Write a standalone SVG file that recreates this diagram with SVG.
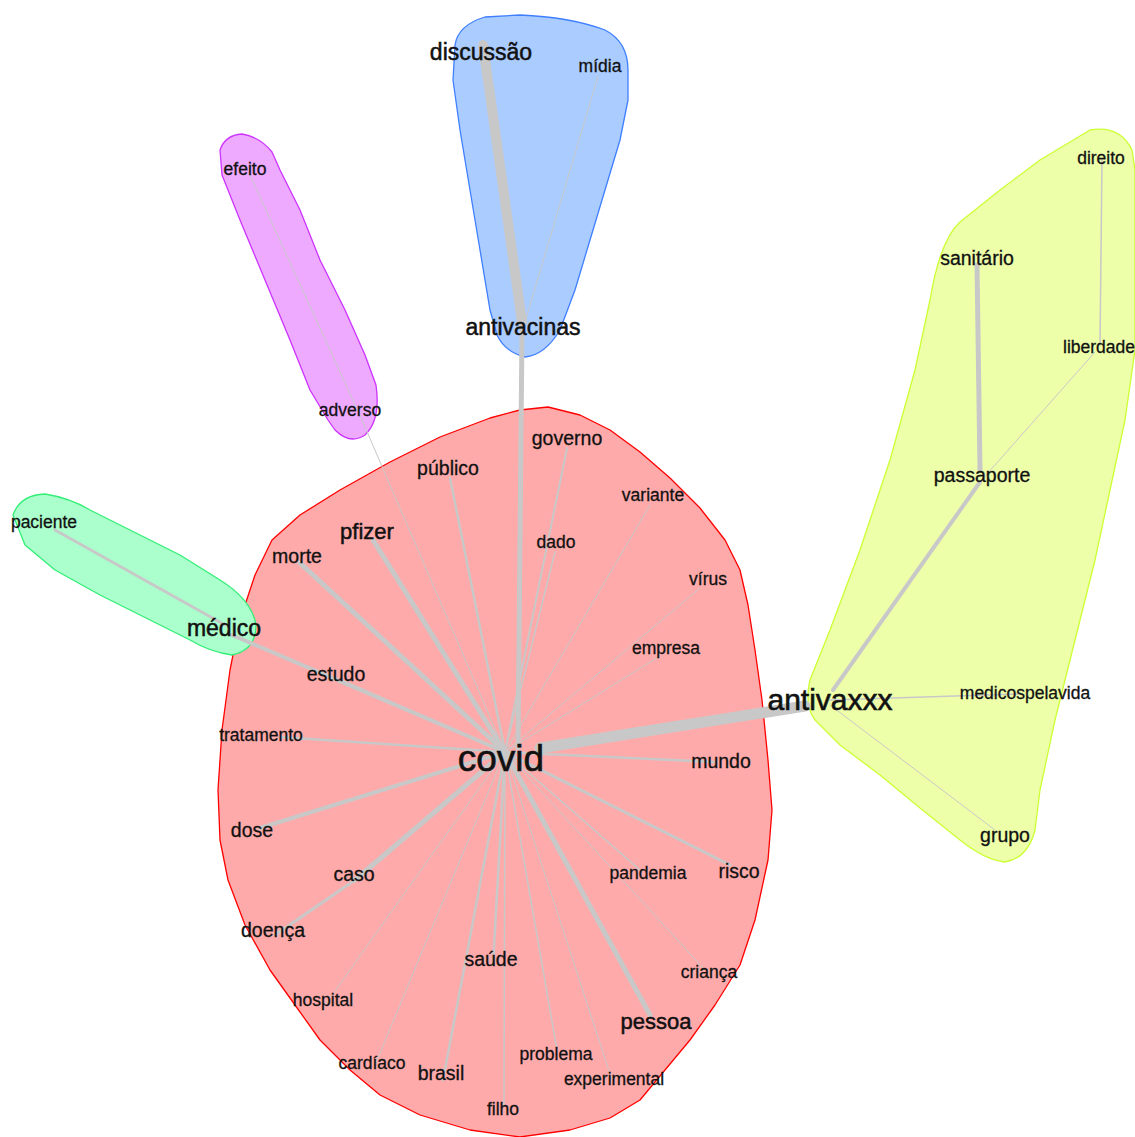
<svg xmlns="http://www.w3.org/2000/svg" width="1135" height="1137" viewBox="0 0 1135 1137">
<style>
.hull{stroke-width:1.3;stroke-linejoin:round}
.e{stroke:#c8c8c8;fill:none;stroke-linecap:round}
text{font-family:"Liberation Sans",Arial,sans-serif;fill:#111;text-anchor:middle;stroke:#111;stroke-width:0.3}
.s17{font-size:17.5px}.s19{font-size:19.5px}.s22{font-size:22px;stroke-width:0.5}.s23{font-size:23px;stroke-width:0.5}.s30{font-size:30px;stroke-width:0.6}.s37{font-size:37px;stroke-width:0.6}
</style>
<rect width="1135" height="1137" fill="#fff"/>
<g id="hulls">
<path id="hull-red" class="hull" fill="#ffaaaa" stroke="#ff0000" d="M548,407 L580,415 L610,430 L640,452 L670,478 L700,508 L725,540 L740,570 L748,605 L755,650 L762,700 L768,760 L772,810 L768,860 L755,920 L740,965 L715,1005 L690,1040 L665,1070 L640,1100 L610,1118 L570,1130 L520,1137 L470,1130 L420,1115 L380,1095 L350,1070 L320,1040 L295,1005 L270,970 L245,925 L228,880 L220,840 L218,790 L222,730 L230,670 L240,620 L255,575 L272,540 L300,515 L340,490 L390,462 L440,437 L490,418 L520,410 Z"/>
<path id="hull-blue" class="hull" fill="#aaccff" stroke="#3f7fff" d="M455,45 Q458,25 485,17 L520,15 Q570,17 605,30 Q628,42 628,70 L628,100 L620,140 L605,190 L590,240 L575,290 L560,330 Q545,355 525,357 Q505,352 497,335 L490,310 L480,250 L470,190 L460,130 L453,80 Z"/>
<path id="hull-purple" class="hull" fill="#eeaaff" stroke="#cc33ff" d="M220,150 Q225,135 242,134 Q260,137 272,152 L280,170 L300,210 L320,260 L345,310 L365,355 L376,385 Q381,420 365,435 Q350,445 335,430 L328,420 L310,390 L290,340 L265,280 L240,220 L222,175 Z"/>
<path id="hull-green" class="hull" fill="#aaffcc" stroke="#33ee77" d="M13,515 Q20,495 45,494 Q70,498 90,510 L130,530 L180,555 L220,580 Q252,600 256,625 Q256,650 232,655 Q210,652 190,640 L150,620 L100,595 L55,570 L25,545 Z"/>
<path id="hull-yellow" class="hull" fill="#eeffaa" stroke="#ccff33" d="M1090,130 Q1120,125 1132,150 L1135,170 L1135,350 L1125,420 L1110,490 L1095,560 L1075,640 L1055,720 L1040,790 L1035,830 Q1028,858 1005,862 Q985,860 960,840 L920,808 L880,775 L840,745 L815,720 Q804,705 810,680 L830,630 L860,550 L890,460 L915,370 L930,300 Q940,240 960,222 L1000,190 L1040,160 Z"/>
</g>
<g id="connectors">
<line class="e" x1="483" y1="45" x2="522" y2="322" stroke-width="10"/>
<line class="e" x1="598" y1="76" x2="525" y2="322" stroke-width="1"/>
<line class="e" x1="522" y1="330" x2="518" y2="748" stroke-width="5"/>
<line class="e" x1="250" y1="175" x2="362" y2="420" stroke-width="1"/>
<line class="e" x1="362" y1="420" x2="505" y2="752" stroke-width="1"/>
<line class="e" x1="55" y1="530" x2="225" y2="625" stroke-width="3"/>
<line class="e" x1="232" y1="635" x2="505" y2="752" stroke-width="4"/>
<line class="e" x1="540" y1="748" x2="805" y2="706" stroke-width="11"/>
<line class="e" x1="373" y1="540" x2="505" y2="752" stroke-width="5"/>
<line class="e" x1="300" y1="563" x2="505" y2="752" stroke-width="5"/>
<line class="e" x1="450" y1="478" x2="505" y2="752" stroke-width="2.5"/>
<line class="e" x1="567" y1="448" x2="505" y2="752" stroke-width="2"/>
<line class="e" x1="650" y1="505" x2="505" y2="752" stroke-width="1"/>
<line class="e" x1="555" y1="552" x2="505" y2="752" stroke-width="1.5"/>
<line class="e" x1="700" y1="588" x2="505" y2="752" stroke-width="1"/>
<line class="e" x1="660" y1="656" x2="505" y2="752" stroke-width="1"/>
<line class="e" x1="340" y1="680" x2="505" y2="752" stroke-width="2.5"/>
<line class="e" x1="280" y1="737" x2="505" y2="752" stroke-width="2.5"/>
<line class="e" x1="715" y1="762" x2="505" y2="752" stroke-width="2.5"/>
<line class="e" x1="260" y1="828" x2="505" y2="752" stroke-width="4"/>
<line class="e" x1="355" y1="880" x2="505" y2="752" stroke-width="5"/>
<line class="e" x1="275" y1="935" x2="355" y2="880" stroke-width="3"/>
<line class="e" x1="325" y1="1005" x2="505" y2="752" stroke-width="1"/>
<line class="e" x1="375" y1="1065" x2="505" y2="752" stroke-width="1"/>
<line class="e" x1="443" y1="1080" x2="505" y2="752" stroke-width="2.5"/>
<line class="e" x1="493" y1="965" x2="505" y2="752" stroke-width="2.5"/>
<line class="e" x1="504" y1="1105" x2="505" y2="752" stroke-width="1.5"/>
<line class="e" x1="557" y1="1050" x2="505" y2="752" stroke-width="1.5"/>
<line class="e" x1="612" y1="1080" x2="505" y2="752" stroke-width="1"/>
<line class="e" x1="650" y1="1015" x2="505" y2="752" stroke-width="5"/>
<line class="e" x1="705" y1="970" x2="505" y2="752" stroke-width="1"/>
<line class="e" x1="640" y1="870" x2="505" y2="752" stroke-width="1.5"/>
<line class="e" x1="730" y1="865" x2="505" y2="752" stroke-width="3"/>
<line class="e" x1="833" y1="690" x2="980" y2="482" stroke-width="4"/>
<line class="e" x1="980" y1="470" x2="977" y2="265" stroke-width="5"/>
<line class="e" x1="980" y1="482" x2="1095" y2="352" stroke-width="1"/>
<line class="e" x1="1100" y1="345" x2="1102" y2="160" stroke-width="1.5"/>
<line class="e" x1="830" y1="700" x2="1020" y2="694" stroke-width="1.5"/>
<line class="e" x1="830" y1="705" x2="995" y2="830" stroke-width="1"/>
</g>
<g id="nodes">
<g id="n-discussao"><text class="s23" x="481" y="60">discussão</text></g>
<g id="n-midia"><text class="s17" x="600" y="72">mídia</text></g>
<g id="n-antivacinas"><text class="s23" x="523" y="335">antivacinas</text></g>
<g id="n-efeito"><text class="s17" x="245" y="175">efeito</text></g>
<g id="n-adverso"><text class="s17" x="350" y="416">adverso</text></g>
<g id="n-paciente"><text class="s17" x="44" y="528">paciente</text></g>
<g id="n-medico"><text class="s23" x="224" y="636">médico</text></g>
<g id="n-governo"><text class="s19" x="567" y="445">governo</text></g>
<g id="n-publico"><text class="s19" x="448" y="475">público</text></g>
<g id="n-variante"><text class="s17" x="653" y="501">variante</text></g>
<g id="n-dado"><text class="s17" x="556" y="548">dado</text></g>
<g id="n-pfizer"><text class="s22" x="367" y="539">pfizer</text></g>
<g id="n-morte"><text class="s19" x="297" y="563">morte</text></g>
<g id="n-virus"><text class="s17" x="708" y="585">vírus</text></g>
<g id="n-empresa"><text class="s17" x="666" y="654">empresa</text></g>
<g id="n-estudo"><text class="s19" x="336" y="681">estudo</text></g>
<g id="n-antivaxxx"><text class="s30" x="830" y="710">antivaxxx</text></g>
<g id="n-medicospelavida"><text class="s17" x="1025" y="699">medicospelavida</text></g>
<g id="n-tratamento"><text class="s17" x="261" y="741">tratamento</text></g>
<g id="n-covid"><text class="s37" x="501" y="771">covid</text></g>
<g id="n-mundo"><text class="s19" x="721" y="768">mundo</text></g>
<g id="n-dose"><text class="s19" x="252" y="837">dose</text></g>
<g id="n-caso"><text class="s19" x="354" y="881">caso</text></g>
<g id="n-pandemia"><text class="s17" x="648" y="879">pandemia</text></g>
<g id="n-risco"><text class="s19" x="739" y="878">risco</text></g>
<g id="n-doenca"><text class="s19" x="273" y="937">doença</text></g>
<g id="n-saude"><text class="s19" x="491" y="966">saúde</text></g>
<g id="n-crianca"><text class="s17" x="709" y="978">criança</text></g>
<g id="n-hospital"><text class="s17" x="323" y="1006">hospital</text></g>
<g id="n-pessoa"><text class="s22" x="656" y="1029">pessoa</text></g>
<g id="n-problema"><text class="s17" x="556" y="1060">problema</text></g>
<g id="n-cardiaco"><text class="s17" x="372" y="1069">cardíaco</text></g>
<g id="n-brasil"><text class="s19" x="441" y="1080">brasil</text></g>
<g id="n-experimental"><text class="s17" x="614" y="1085">experimental</text></g>
<g id="n-filho"><text class="s17" x="503" y="1115">filho</text></g>
<g id="n-direito"><text class="s17" x="1101" y="164">direito</text></g>
<g id="n-sanitario"><text class="s19" x="977" y="265">sanitário</text></g>
<g id="n-liberdade"><text class="s17" x="1099" y="353">liberdade</text></g>
<g id="n-passaporte"><text class="s19" x="982" y="482">passaporte</text></g>
<g id="n-grupo"><text class="s19" x="1005" y="842">grupo</text></g>
</g>
</svg>
